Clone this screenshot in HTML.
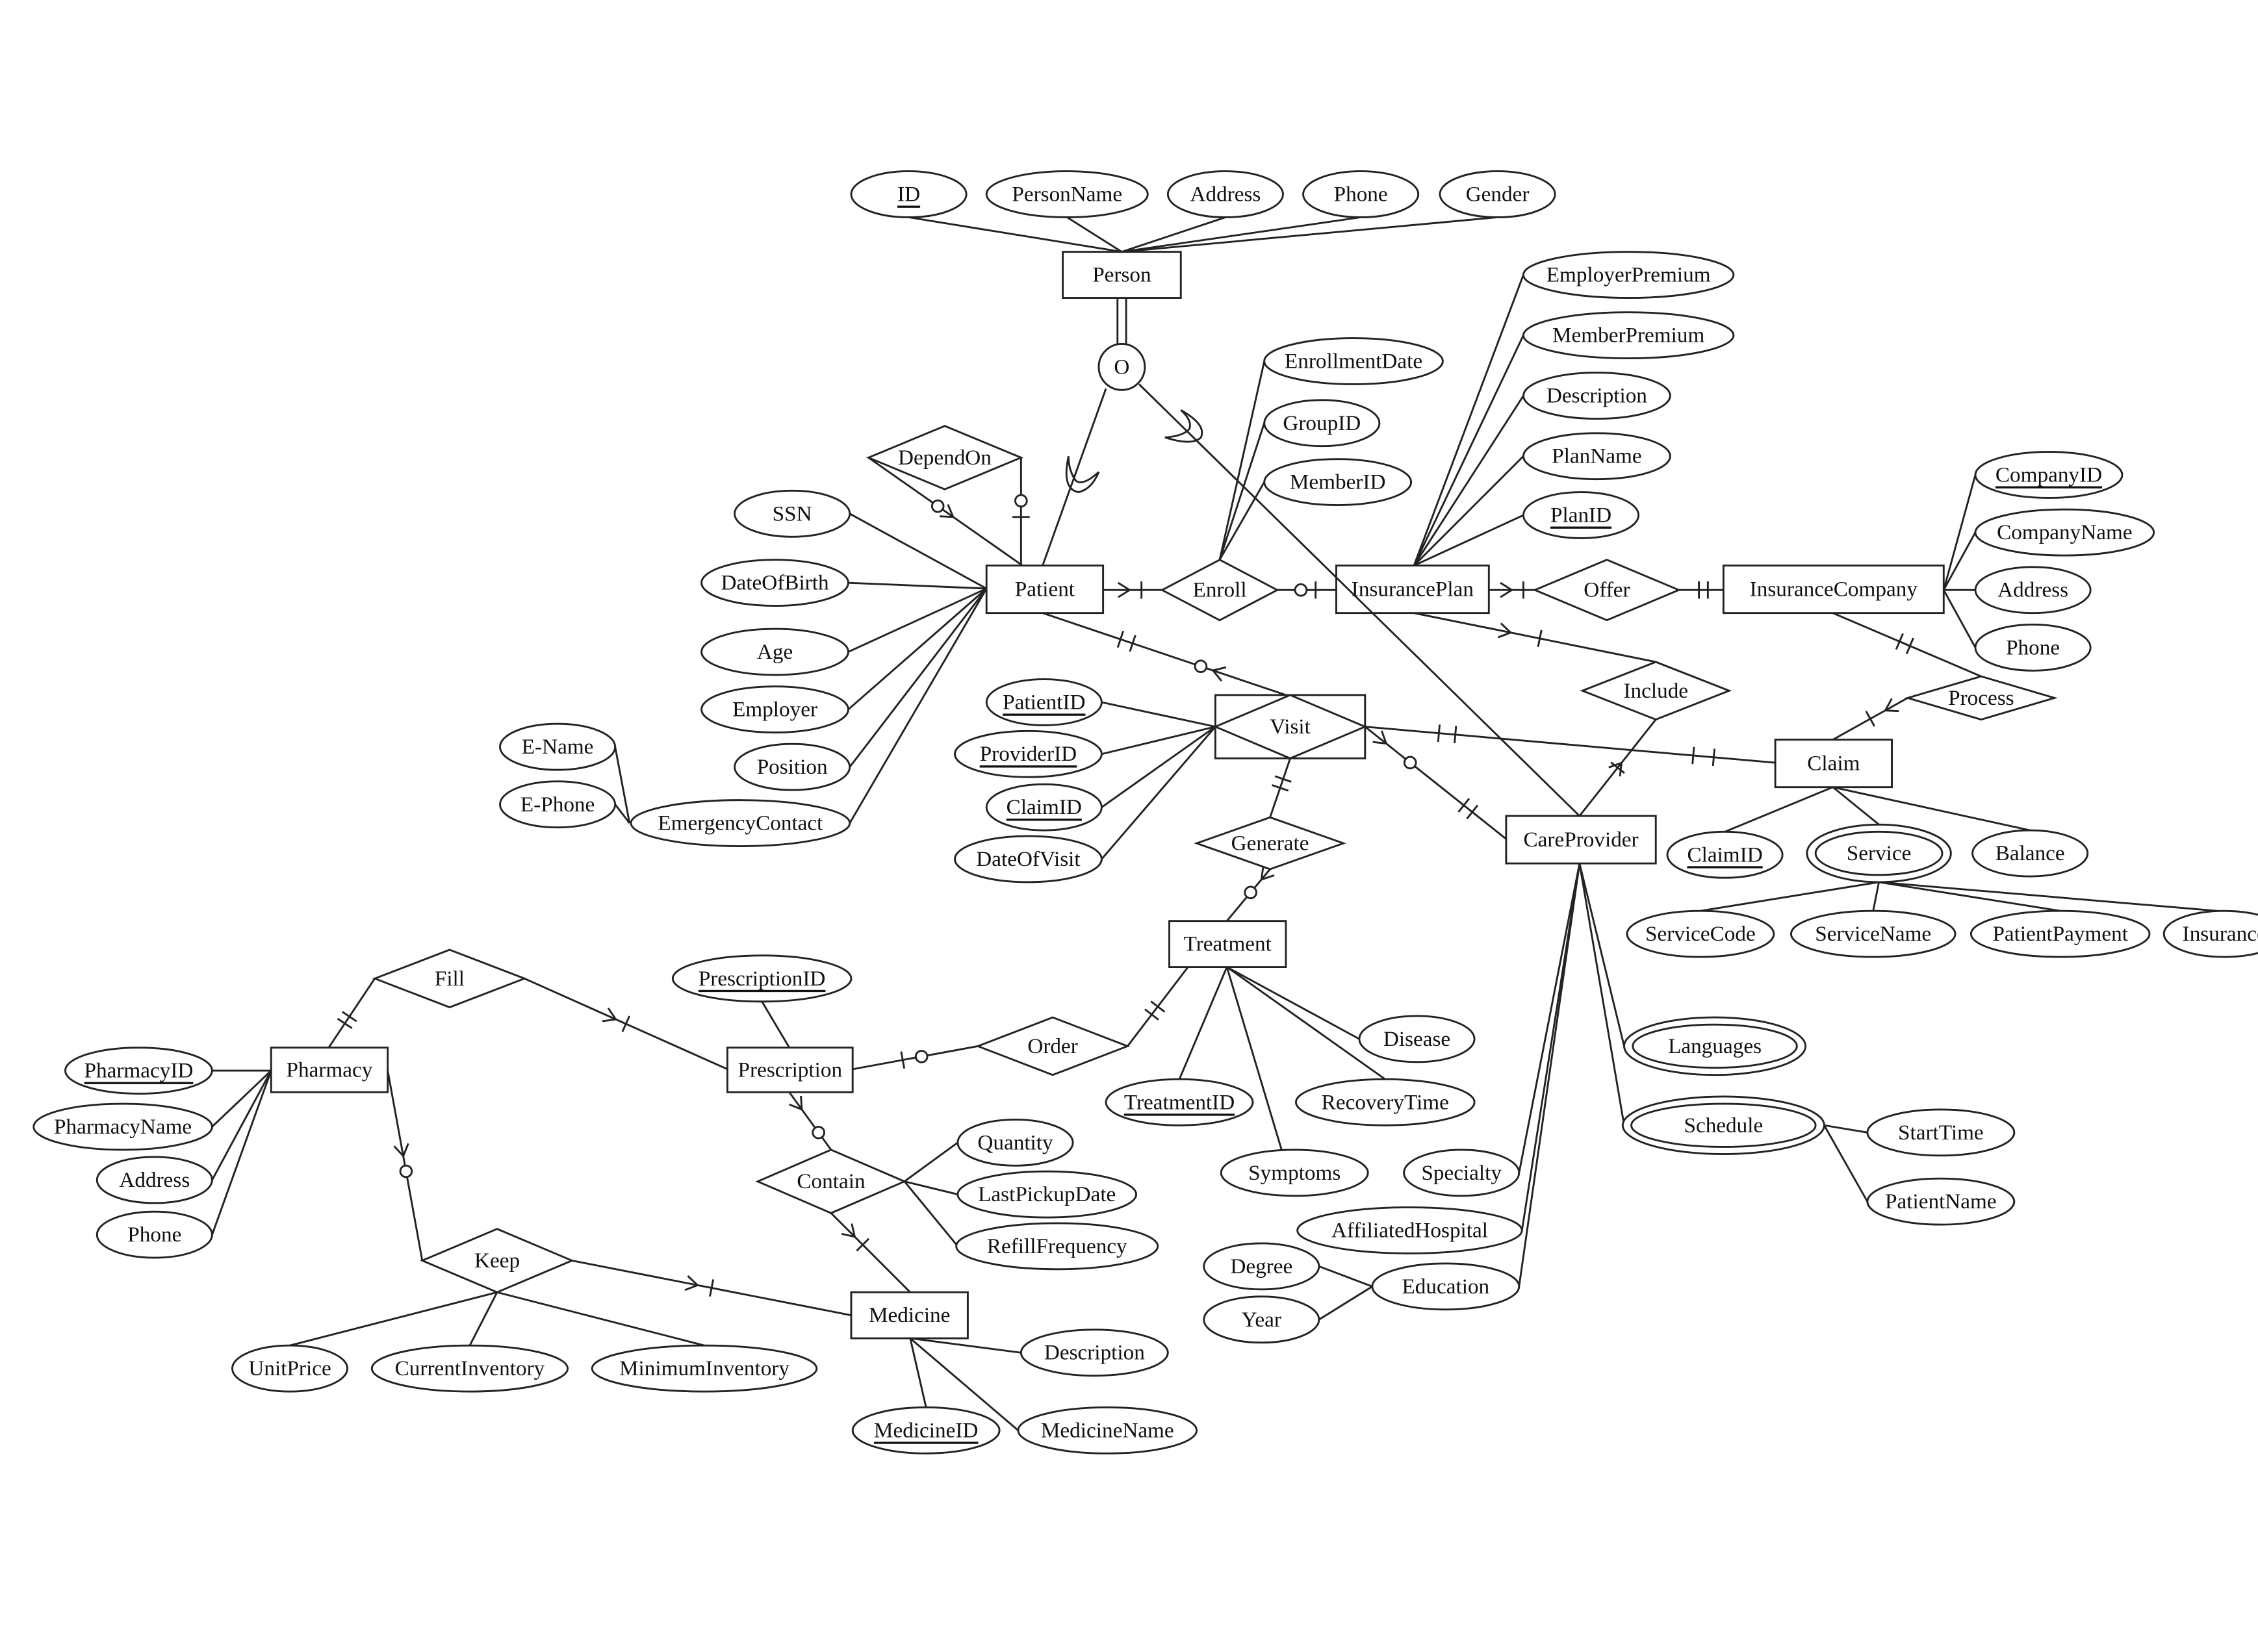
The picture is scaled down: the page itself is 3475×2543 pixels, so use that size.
<!DOCTYPE html>
<html><head><meta charset="utf-8"><style>
html,body{margin:0;padding:0;background:#fff;}
svg{display:block;}
text{font-family:"Liberation Serif",serif;font-size:15px;fill:#111;text-anchor:middle;dominant-baseline:central;}
</style></head><body>
<svg id="s" width="3475" height="2543" viewBox="0 0 1568 1148" xmlns="http://www.w3.org/2000/svg">
<g id="L" stroke="#222" stroke-width="1.3" fill="none">
<line x1="631" y1="151" x2="779" y2="175"/><line x1="741" y1="151" x2="779" y2="175"/>
<line x1="851" y1="151" x2="779" y2="175"/><line x1="945" y1="151" x2="779" y2="175"/>
<line x1="1040" y1="151" x2="779" y2="175"/>
<line x1="776" y1="207" x2="776" y2="239"/><line x1="782" y1="207" x2="782" y2="239"/>
<line x1="768" y1="270" x2="724" y2="393"/>
<path d="M742,317 Q737,340 749,342 Q758,340 763,328 Q752,338 747,334 Q742,327 742,317 Z"/>
<path d="M820,285 Q838,295 834,304 Q828,310 809,304 Q822,303 826,298 Q828,292 820,285 Z"/>
<line x1="603" y1="318" x2="710" y2="393"/><line x1="709" y1="318" x2="709" y2="393"/>
<line x1="590" y1="357" x2="685" y2="409"/><line x1="589" y1="405" x2="685" y2="409"/>
<line x1="589" y1="453" x2="685" y2="409"/><line x1="589" y1="493" x2="685" y2="409"/>
<line x1="590" y1="533" x2="685" y2="409"/><line x1="590" y1="572" x2="685" y2="409"/>
<line x1="427" y1="519" x2="437" y2="572"/><line x1="427" y1="559" x2="437" y2="572"/>
<line x1="766" y1="410" x2="807" y2="410"/><line x1="887" y1="410" x2="928" y2="410"/>
<line x1="847" y1="389" x2="878" y2="251"/><line x1="847" y1="389" x2="878" y2="294"/><line x1="847" y1="389" x2="878" y2="335"/>
<line x1="982" y1="393" x2="1058" y2="191"/><line x1="982" y1="393" x2="1058" y2="233"/>
<line x1="982" y1="393" x2="1058" y2="275"/><line x1="982" y1="393" x2="1058" y2="317"/>
<line x1="982" y1="393" x2="1058" y2="358"/>
<line x1="1034" y1="410" x2="1066" y2="410"/><line x1="1166" y1="410" x2="1197" y2="410"/>
<line x1="1350" y1="410" x2="1372" y2="330"/><line x1="1350" y1="410" x2="1372" y2="370"/>
<line x1="1350" y1="410" x2="1372" y2="410"/><line x1="1350" y1="410" x2="1372" y2="450"/>
<line x1="982" y1="426" x2="1150" y2="460"/><line x1="1097" y1="567" x2="1150" y2="500"/>
<line x1="1273" y1="426" x2="1376" y2="470"/><line x1="1325" y1="485" x2="1273" y2="514"/>
<line x1="724" y1="426" x2="893" y2="483"/><line x1="948" y1="505" x2="1046" y2="583"/>
<line x1="948" y1="505" x2="1233" y2="530"/>
<line x1="844" y1="505" x2="765" y2="488"/><line x1="844" y1="505" x2="765" y2="524"/>
<line x1="844" y1="505" x2="765" y2="561"/><line x1="844" y1="505" x2="765" y2="597"/>
<line x1="896" y1="527" x2="882" y2="568"/><line x1="882" y1="604" x2="852" y2="640"/>
<line x1="1273" y1="547" x2="1198" y2="578"/><line x1="1273" y1="547" x2="1305" y2="573"/><line x1="1273" y1="547" x2="1410" y2="577"/>
<line x1="1305" y1="613" x2="1181" y2="633"/><line x1="1305" y1="613" x2="1301" y2="633"/>
<line x1="1305" y1="613" x2="1431" y2="633"/><line x1="1305" y1="613" x2="1540" y2="633"/>
<line x1="852" y1="672" x2="944" y2="722"/><line x1="852" y1="672" x2="962" y2="750"/>
<line x1="852" y1="672" x2="819" y2="750"/><line x1="852" y1="672" x2="890" y2="799"/>
<line x1="1097" y1="600" x2="1128" y2="727"/><line x1="1097" y1="600" x2="1128" y2="782"/>
<line x1="1097" y1="600" x2="1055" y2="815"/><line x1="1097" y1="600" x2="1057" y2="855"/>
<line x1="1097" y1="600" x2="1055" y2="894"/>
<line x1="1267" y1="782" x2="1297" y2="787"/><line x1="1267" y1="782" x2="1297" y2="835"/>
<line x1="953" y1="894" x2="916" y2="880"/><line x1="953" y1="894" x2="916" y2="917"/>
<line x1="228" y1="728" x2="260" y2="680"/><line x1="364" y1="680" x2="505" y2="743"/>
<line x1="548" y1="728" x2="529" y2="696"/>
<line x1="592" y1="743" x2="679" y2="727"/><line x1="783" y1="727" x2="825" y2="672"/>
<line x1="548" y1="759" x2="577" y2="799"/>
<line x1="628" y1="821" x2="665" y2="794"/><line x1="628" y1="821" x2="665" y2="830"/><line x1="628" y1="821" x2="665" y2="866"/>
<line x1="577" y1="843" x2="632" y2="898"/>
<line x1="188" y1="744" x2="147" y2="744"/><line x1="188" y1="744" x2="147" y2="783"/>
<line x1="188" y1="744" x2="147" y2="820"/><line x1="188" y1="744" x2="147" y2="858"/>
<line x1="269" y1="744" x2="293" y2="876"/><line x1="397" y1="876" x2="591" y2="914"/>
<line x1="345" y1="898" x2="201" y2="935"/><line x1="345" y1="898" x2="326" y2="935"/><line x1="345" y1="898" x2="489" y2="935"/>
<line x1="632" y1="930" x2="709" y2="940"/><line x1="632" y1="930" x2="643" y2="978"/><line x1="632" y1="930" x2="707" y2="994"/>
</g>
<g id="M" stroke="#222" stroke-width="1.3" fill="none"></g>
<g id="S" stroke="#222" stroke-width="1.3" fill="#fff"></g>
<line x1="791" y1="267" x2="1097" y2="567" stroke="#222" stroke-width="1.3"/>
</svg>
<script>
var NS="http://www.w3.org/2000/svg",S=document.getElementById('S'),M=document.getElementById('M'),svg=document.getElementById('s');
function el(p,t,a){var e=document.createElementNS(NS,t);for(var k in a)e.setAttribute(k,a[k]);p.appendChild(e);return e;}
function tx(x,y,s,u){var t=el(svg,'text',{x:x,y:y});t.textContent=s;if(u)t.setAttribute('text-decoration','underline');}
function E(x,y,rx,s,u){el(S,'ellipse',{cx:x,cy:y,rx:rx,ry:16});tx(x,y,s,u);}
function E2(x,y,rx,s){el(S,'ellipse',{cx:x,cy:y,rx:rx,ry:20});el(S,'ellipse',{cx:x,cy:y,rx:rx-6,ry:15});tx(x,y,s);}
function R(x,y,w,h,s){el(S,'rect',{x:x,y:y,width:w,height:h});tx(x+w/2,y+h/2,s);}
function D(x,y,w,h,s){el(S,'polygon',{points:(x-w/2)+','+y+' '+x+','+(y-h/2)+' '+(x+w/2)+','+y+' '+x+','+(y+h/2)});tx(x,y,s);}
function tick(x1,y1,x2,y2,t){var dx=x2-x1,dy=y2-y1,l=Math.hypot(dx,dy),px=-dy/l*6,py=dx/l*6,x=x1+dx*t,y=y1+dy*t;el(M,'line',{x1:x-px,y1:y-py,x2:x+px,y2:y+py});}
function circ(x1,y1,x2,y2,t){el(M,'circle',{cx:x1+(x2-x1)*t,cy:y1+(y2-y1)*t,r:4,fill:'#fff'});}
function crow(x1,y1,x2,y2,t){var dx=x2-x1,dy=y2-y1,l=Math.hypot(dx,dy),ux=dx/l,uy=dy/l,x=x1+dx*t,y=y1+dy*t;el(M,'polyline',{points:(x-ux*8-uy*5)+','+(y-uy*8+ux*5)+' '+x+','+y+' '+(x-ux*8+uy*5)+','+(y-uy*8-ux*5)});}
tick(766,410,807,410,.65);crow(766,410,807,410,.45);
circ(887,410,928,410,.4);tick(887,410,928,410,.65);
crow(1034,410,1066,410,.5);tick(1034,410,1066,410,.75);
tick(1166,410,1197,410,.45);tick(1166,410,1197,410,.65);
tick(982,426,1150,460,.52);crow(982,426,1150,460,.4);
tick(1097,567,1150,500,.5);crow(1097,567,1150,500,.55);
tick(1273,426,1376,470,.45);tick(1273,426,1376,470,.52);
crow(1325,485,1273,514,.3);tick(1325,485,1273,514,.5);
tick(724,426,893,483,.32);tick(724,426,893,483,.37);circ(724,426,893,483,.65);crow(893,483,724,426,.3);
crow(948,505,1046,583,.15);circ(948,505,1046,583,.32);tick(948,505,1046,583,.7);tick(948,505,1046,583,.76);
tick(948,505,1233,530,.18);tick(948,505,1233,530,.22);tick(948,505,1233,530,.8);tick(948,505,1233,530,.85);
tick(896,527,882,568,.35);tick(896,527,882,568,.5);
circ(882,604,852,640,.45);crow(882,604,852,640,.2);
circ(603,318,710,393,.45);crow(603,318,710,393,.55);
circ(709,318,709,393,.4);tick(709,318,709,393,.55);
tick(228,728,260,680,.35);tick(228,728,260,680,.45);
crow(364,680,505,743,.45);tick(364,680,505,743,.5);
tick(592,743,679,727,.4);circ(592,743,679,727,.55);
tick(783,727,825,672,.4);tick(783,727,825,672,.5);
crow(548,759,577,799,.3);circ(548,759,577,799,.7);
crow(577,843,632,898,.3);tick(577,843,632,898,.4);
crow(269,744,293,876,.45);circ(269,744,293,876,.53);
crow(397,876,591,914,.45);tick(397,876,591,914,.5);
E(631,135,40,'ID',1);E(741,135,56,'PersonName');E(851,135,40,'Address');E(945,135,40,'Phone');E(1040,135,40,'Gender');
R(738,175,82,32,'Person');
el(S,'circle',{cx:779,cy:255,r:16});tx(779,255,'O');
E(1131,191,73,'EmployerPremium');E(1131,233,73,'MemberPremium');E(1109,275,51,'Description');E(1109,317,51,'PlanName');E(1098,358,40,'PlanID',1);
E(940,251,62,'EnrollmentDate');E(918,294,40,'GroupID');E(929,335,51,'MemberID');
E(1423,330,51,'CompanyID',1);E(1434,370,62,'CompanyName');E(1412,410,40,'Address');E(1412,450,40,'Phone');
D(656,318,106,44,'DependOn');
E(550,357,40,'SSN');E(538,405,51,'DateOfBirth');E(538,453,51,'Age');E(538,493,51,'Employer');E(550,533,40,'Position');
E(387,519,40,'E-Name');E(387,559,40,'E-Phone');E(514,572,76,'EmergencyContact');
R(685,393,81,33,'Patient');D(847,410,80,42,'Enroll');R(928,393,106,33,'InsurancePlan');
D(1116,410,100,42,'Offer');R(1197,393,153,33,'InsuranceCompany');
D(1150,480,102,40,'Include');D(1376,485,102,30,'Process');R(1233,514,81,33,'Claim');
el(S,'rect',{x:844,y:483,width:104,height:44});el(S,'polygon',{points:'844,505 896,483 948,505 896,527'});tx(896,505,'Visit');
E(725,488,40,'PatientID',1);E(714,524,51,'ProviderID',1);E(725,561,40,'ClaimID',1);E(714,597,51,'DateOfVisit');
D(882,586,102,36,'Generate');R(1046,567,104,33,'CareProvider');
E(1198,594,40,'ClaimID',1);E2(1305,593,50,'Service');E(1410,593,40,'Balance');
E(1181,649,51,'ServiceCode');E(1301,649,57,'ServiceName');E(1431,649,62,'PatientPayment');E(1545,649,42,'Insurance');
R(812,640,81,32,'Treatment');
E(984,722,40,'Disease');E(962,766,62,'RecoveryTime');E(819,766,51,'TreatmentID',1);E(899,815,51,'Symptoms');
E(1015,815,40,'Specialty');E(979,855,78,'AffiliatedHospital');E(1004,894,51,'Education');E(876,880,40,'Degree');E(876,917,40,'Year');
E2(1191,727,63,'Languages');E2(1197,782,70,'Schedule');E(1348,787,51,'StartTime');E(1348,835,51,'PatientName');
D(312,680,104,40,'Fill');E(529,680,62,'PrescriptionID',1);
R(188,728,81,31,'Pharmacy');R(505,728,87,31,'Prescription');D(731,727,104,40,'Order');
E(96,744,51,'PharmacyID',1);E(85,783,62,'PharmacyName');E(107,820,40,'Address');E(107,858,40,'Phone');
D(577,821,102,44,'Contain');E(705,794,40,'Quantity');E(727,830,62,'LastPickupDate');E(734,866,70,'RefillFrequency');
D(345,876,104,44,'Keep');R(591,898,81,32,'Medicine');
E(201,951,40,'UnitPrice');E(326,951,68,'CurrentInventory');E(489,951,78,'MinimumInventory');
E(760,940,51,'Description');E(643,994,51,'MedicineID',1);E(769,994,62,'MedicineName');
svg.appendChild(svg.querySelector('line[x1="791"]'));
</script>
</body></html>
